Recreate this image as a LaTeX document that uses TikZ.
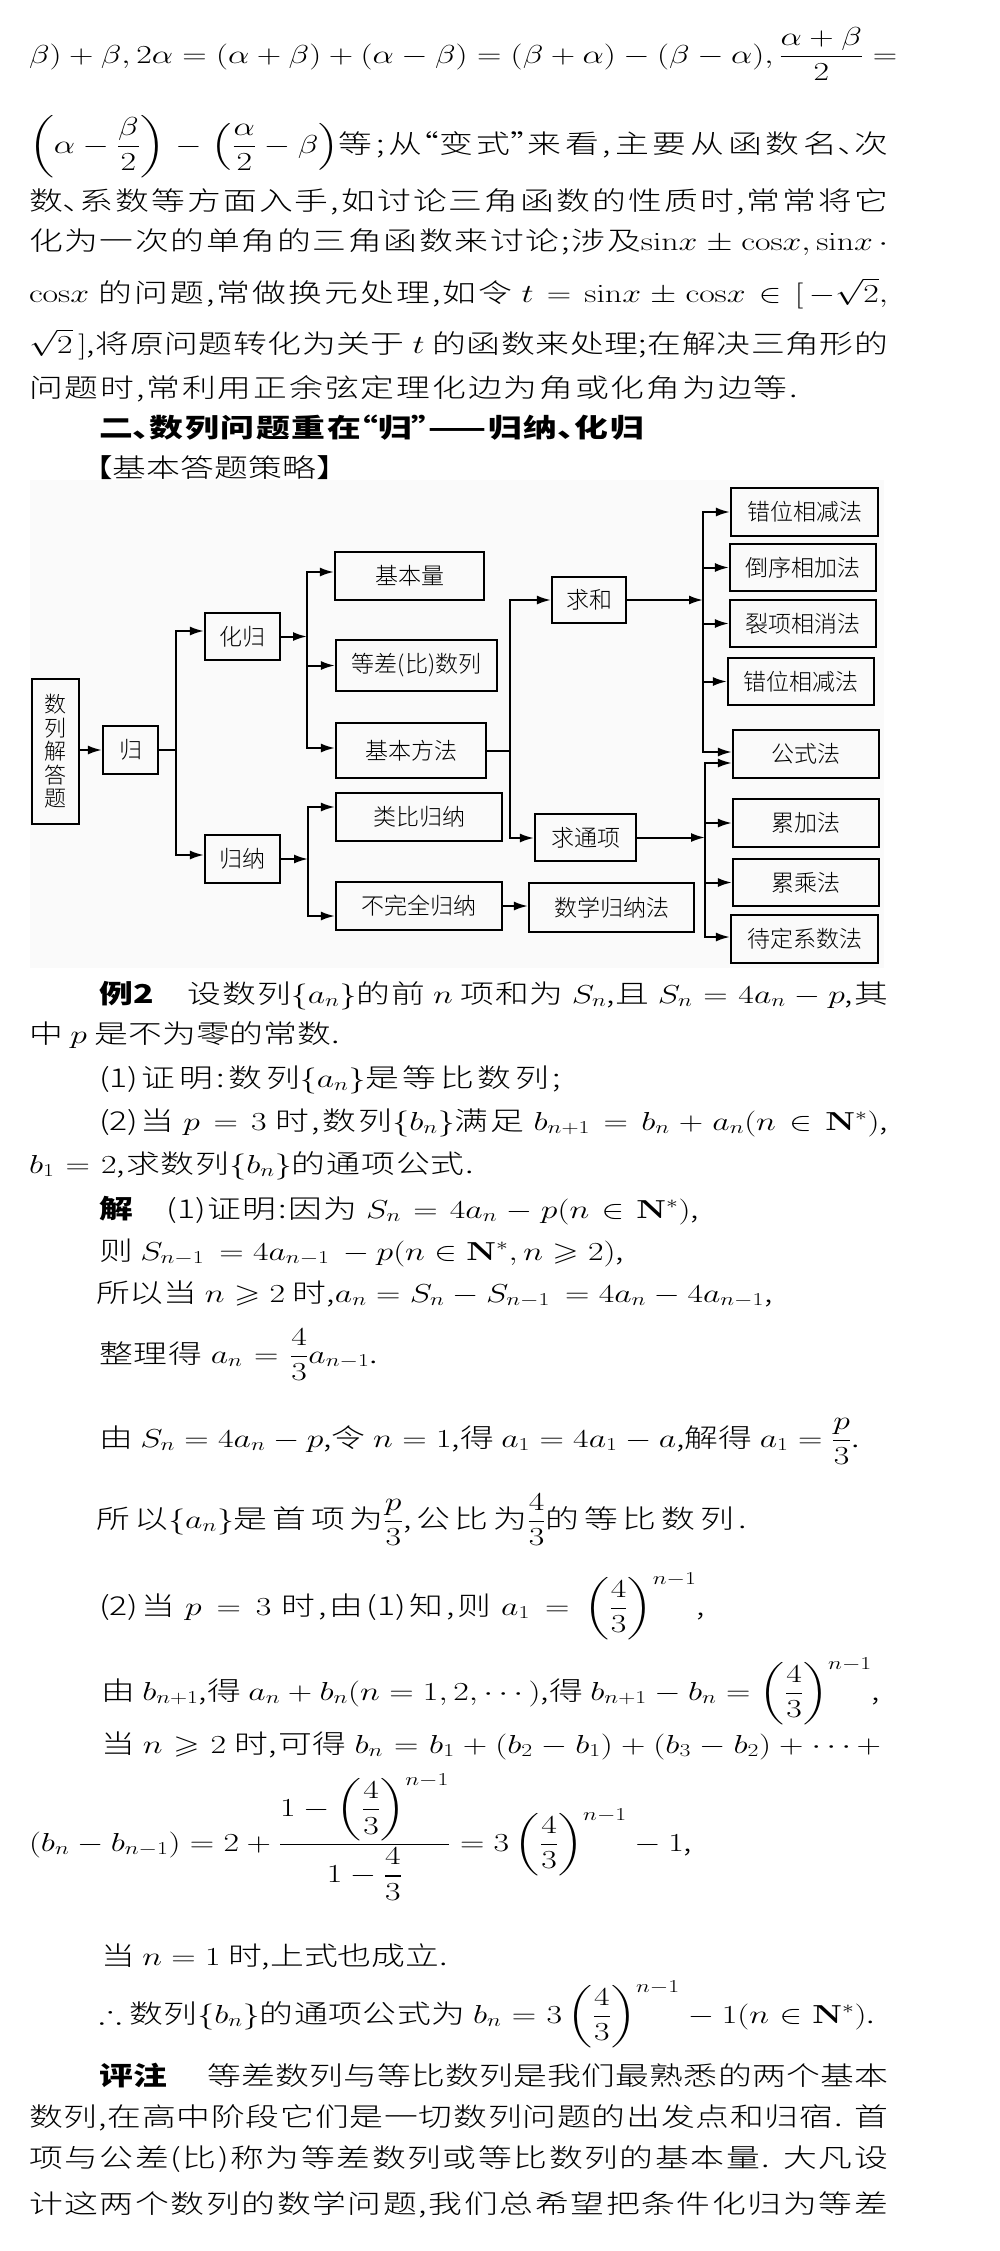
\RequirePackage{fix-cm}
\documentclass[tikz,border=0pt]{standalone}
\usepackage{amsmath,amssymb}
\usepackage[no-math]{fontspec}
\IfFontExistsTF{Noto Sans CJK SC Light}{\setmainfont{Noto Sans CJK SC Light}}{\setmainfont{Noto Sans CJK SC}}
\newfontfamily\hei{Noto Sans CJK SC}
\DeclareFontFamily{U}{msa}{}
\DeclareFontShape{U}{msa}{m}{n}{<-> msam10}{}
\usepackage{graphicx}
\usetikzlibrary{arrows.meta}
% stretchable glue between CJK characters
\XeTeXinterchartokenstate=1
\count255="4E00
\loop \XeTeXcharclass\count255=1 \advance\count255 by 1 \ifnum\count255<"A000 \repeat
\count255="3000
\loop \XeTeXcharclass\count255=1 \advance\count255 by 1 \ifnum\count255<"3040 \repeat
\newcommand\cjkglue{\hskip 0pt plus 4pt minus 1.2pt\relax}
\XeTeXinterchartoks 1 1 = {\cjkglue}
\XeTeXinterchartoks 1 0 = {\cjkglue}
\XeTeXinterchartoks 0 1 = {\cjkglue}
% half-width punctuation
\newcommand\dn{\makebox[0.5em][l]{、}}
\newcommand\lqt{\makebox[0.5em][r]{“}}
\newcommand\rqt{\makebox[0.5em][l]{”}}
\newcommand\lbk{\makebox[0.5em][r]{【}}
\newcommand\rbk{\makebox[0.5em][l]{】}}
\newcommand\msin{\mathrm{sin}}
\newcommand\mcos{\mathrm{cos}}
% stretch a line to the given width unless it is already wider
\newbox\tlbox
\newdimen\tlwd
\newcommand\fitline[2]{\setbox\tlbox\hbox{#2}\tlwd=\dimexpr #1pt*10/13\relax
  \ifdim\wd\tlbox>\tlwd \box\tlbox\else\makebox[\tlwd][s]{#2}\fi}
% one text line: name, x, baseline y, width, content
\newcommand\tline[5]{\node[txt] (#1) at (#2,#3) {\scalebox{1.3}[1]{\fitline{#4}{#5}}};}
% one diagram box: name, x1, y1, x2, y2, text
\newcommand\dgbox[6]{\node[dbx,minimum width={(#4)-(#2)},minimum height={(#5)-(#3)}] (#1) at ({((#2)+(#4))/2},{((#3)+(#5))/2}) {#6};}
\begin{document}
\begin{tikzpicture}[x=1pt,y=-1pt,
  txt/.style={anchor=base west,inner sep=0pt,outer sep=0pt,font=\fontsize{26}{30}\selectfont},
  dbx/.style={draw,line width=2.2pt,inner sep=0pt,font=\fontsize{23}{26}\selectfont},
  conn/.style={line width=2pt,line cap=rect},
  arr/.style={line width=2pt,-{Latex[length=14pt,width=9pt]}}]
\useasboundingbox (0,0) rectangle (1000,2251);
\fill[black!2] (30,480) rectangle (884,968);

% ---------- upper text ----------
\tline{l1}{29}{63}{859}{$\beta)+\beta,2\alpha=(\alpha+\beta)+(\alpha-\beta)=(\beta+\alpha)-(\beta-\alpha),\dfrac{\alpha+\beta}{2}=$}
\tline{l2}{29}{153}{859}{$\left(\alpha-\dfrac{\beta}{2}\right)-\left(\dfrac{\alpha}{2}-\beta\right)$等;从\lqt 变式\rqt 来看,主要从函数名\dn 次}
\tline{l3}{29}{210}{859}{数\dn 系数等方面入手,如讨论三角函数的性质时,常常将它}
\tline{l4}{29}{250}{859}{化为一次的单角的三角函数来讨论;涉及$\msin x\pm\mcos x,\msin x\,\cdot$}
\tline{l5}{29}{302}{859}{$\mcos x$ 的问题,常做换元处理,如令 $t=\msin x\pm\mcos x\in[\,-\sqrt{2},$}
\tline{l6}{29}{353}{859}{$\sqrt{2}\,]$,将原问题转化为关于 $t$ 的函数来处理;在解决三角形的}
\tline{l7}{29}{397}{769}{问题时,常利用正余弦定理化边为角或化角为边等.}
\tline{hd}{99}{437}{545}{{\hei\bfseries 二\dn 数列问题重在\lqt 归\rqt ——归纳\dn 化归}}
\tline{bk}{96}{477}{237}{\lbk 基本答题策略\rbk}

% ---------- diagram ----------
\node[dbx,minimum width=47,minimum height=145,align=center,font=\fontsize{22}{23.5}\selectfont] (root) at (55.5,751.5) {数\\列\\解\\答\\题};
\dgbox{gui}{103}{726}{158}{774}{归}
\dgbox{hg}{205}{613}{280}{660}{化归}
\dgbox{gn}{205}{835}{280}{883}{归纳}
\dgbox{jbl}{335}{552}{484}{600}{基本量}
\dgbox{dc}{336}{640}{497}{691}{等差(比)数列}
\dgbox{jbf}{336}{723}{486}{778}{基本方法}
\dgbox{lb}{336}{793}{502}{841}{类比归纳}
\dgbox{bw}{336}{882}{502}{930}{不完全归纳}
\dgbox{qh}{552}{577}{626}{623}{求和}
\dgbox{qt}{535}{814}{636}{861}{求通项}
\dgbox{sx}{529}{883}{694}{932}{数学归纳法}
\dgbox{r1}{731}{488}{878}{536}{错位相减法}
\dgbox{r2}{730}{544}{876}{591}{倒序相加法}
\dgbox{r3}{730}{600}{876}{647}{裂项相消法}
\dgbox{r4}{728}{658}{874}{705}{错位相减法}
\dgbox{r5}{733}{730}{879}{778}{公式法}
\dgbox{r6}{733}{799}{879}{847}{累加法}
\dgbox{r7}{733}{859}{879}{906}{累乘法}
\dgbox{r8}{731}{915}{878}{963}{待定系数法}

\draw[arr] (root.east |- gui.west) -- (gui.west);
\coordinate (v1t) at (176,631);
\coordinate (v1b) at (176,855);
\draw[conn] (gui.east) -- (gui.east -| v1t);
\draw[conn] (v1t) -- (v1b);
\draw[arr] (v1t) -- (v1t -| hg.west);
\draw[arr] (v1b) -- (v1b -| gn.west);

\coordinate (v2t) at (307,572);
\coordinate (v2b) at (307,748);
\draw[arr] (hg.east) -- (hg.east -| v2t);
\draw[conn] (v2t) -- (v2b);
\draw[arr] (v2t) -- (v2t -| jbl.west);
\draw[arr] (v2t |- dc.west) -- (dc.west);
\draw[arr] (v2b) -- (v2b -| jbf.west);

\coordinate (v3t) at (308,807);
\coordinate (v3b) at (308,916);
\draw[arr] (gn.east) -- (gn.east -| v3t);
\draw[conn] (v3t) -- (v3b);
\draw[arr] (v3t) -- (v3t -| lb.west);
\draw[arr] (v3b) -- (v3b -| bw.west);
\draw[arr] (bw.east) -- (bw.east -| sx.west);

\coordinate (v4t) at (510,600);
\coordinate (v4b) at (510,838);
\draw[conn] (jbf.east) -- (jbf.east -| v4t);
\draw[conn] (v4t) -- (v4b);
\draw[arr] (v4t) -- (v4t -| qh.west);
\draw[arr] (v4b) -- (v4b -| qt.west);

\coordinate (v5t) at (703,512);
\coordinate (v5b) at (703,752);
\draw[arr] (qh.east) -- (qh.east -| v5t);
\draw[conn] (v5t) -- (v5b);
\draw[arr] (v5t) -- (v5t -| r1.west);
\draw[arr] (v5t |- r2.west) -- (r2.west);
\draw[arr] (v5t |- r3.west) -- (r3.west);
\draw[arr] (v5t |- r4.west) -- (r4.west);
\draw[arr] (v5b) -- (v5b -| r5.west);

\coordinate (v6t) at (705,763);
\coordinate (v6b) at (705,937);
\draw[arr] (qt.east) -- (qt.east -| v6t);
\draw[conn] (v6t) -- (v6b);
\draw[arr] (v6t) -- (v6t -| r5.west);
\draw[arr] (v6t |- r6.west) -- (r6.west);
\draw[arr] (v6t |- r7.west) -- (r7.west);
\draw[arr] (v6b) -- (v6b -| r8.west);

% ---------- example ----------
\tline{e1}{99}{1003}{789}{{\hei\bfseries 例2}\hspace{1em}设数列$\{a_n\}$的前 $n$ 项和为 $S_n$,且 $S_n=4a_n-p$,其}
\tline{e2}{29}{1043}{311}{中 $p$ 是不为零的常数.}
\tline{e3}{99}{1087}{462}{(1)证明:数列$\{a_n\}$是等比数列;}
\tline{e4}{99}{1130}{789}{(2)当 $p=3$ 时,数列$\{b_n\}$满足 $b_{n+1}=b_n+a_n(n\in\mathbf{N}^*)$,}
\tline{e5}{29}{1173}{445}{$b_1=2$,求数列$\{b_n\}$的通项公式.}
\tline{s1}{99}{1218}{600}{{\hei\bfseries 解}\hspace{1em}(1)证明:因为 $S_n=4a_n-p(n\in\mathbf{N}^*)$,}
\tline{s2}{99}{1260}{504}{则 $S_{n-1}\,=4a_{n-1}\,-p(n\in\mathbf{N}^*,n\geqslant2)$,}
\tline{s3}{96}{1302}{635}{所以当 $n\geqslant2$ 时,$a_n=S_n-S_{n-1}\,=4a_n-4a_{n-1}$,}
\tline{s4}{99}{1363}{279}{整理得 $a_n=\dfrac{4}{3}a_{n-1}$.}
\tline{s5}{99}{1447}{754}{由 $S_n=4a_n-p$,令 $n=1$,得 $a_1=4a_1-a$,解得 $a_1=\dfrac{p}{3}$.}
\tline{s6}{96}{1528}{651}{所以$\{a_n\}$是首项为$\dfrac{p}{3}$,公比为$\dfrac{4}{3}$的等比数列.}
\tline{s7}{99}{1615}{606}{(2)当 $p=3$ 时,由(1)知,则 $a_1=\left(\dfrac{4}{3}\right)^{n-1}$,}
\tline{s8}{101}{1700}{752}{由 $b_{n+1}$,得 $a_n+b_n(n=1,2,\cdots)$,得 $b_{n+1}-b_n=\left(\dfrac{4}{3}\right)^{n-1}$,}
\tline{s9}{101}{1753}{780}{当 $n\geqslant2$ 时,可得 $b_n=b_1+(b_2-b_1)+(b_3-b_2)+\cdots+$}
\tline{s10}{29}{1851}{657}{$(b_n-b_{n-1})=2+\dfrac{1-\left(\dfrac{4}{3}\right)^{n-1}}{1-\dfrac{4}{3}}=3\left(\dfrac{4}{3}\right)^{n-1}-1$,}
\tline{s11}{101}{1965}{341}{当 $n=1$ 时,上式也成立.}
\tline{s12}{99}{2023}{776}{$\therefore$ 数列$\{b_n\}$的通项公式为 $b_n=3\left(\dfrac{4}{3}\right)^{n-1}-1(n\in\mathbf{N}^*)$.}
\tline{c1}{99}{2085}{789}{{\hei\bfseries 评注}\hspace{1.2em}等差数列与等比数列是我们最熟悉的两个基本}
\tline{c2}{29}{2126}{859}{数列,在高中阶段它们是一切数列问题的出发点和归宿. 首}
\tline{c3}{29}{2167}{859}{项与公差(比)称为等差数列或等比数列的基本量. 大凡设}
\tline{c4}{29}{2213}{859}{计这两个数列的数学问题,我们总希望把条件化归为等差}
\end{tikzpicture}
\end{document}
